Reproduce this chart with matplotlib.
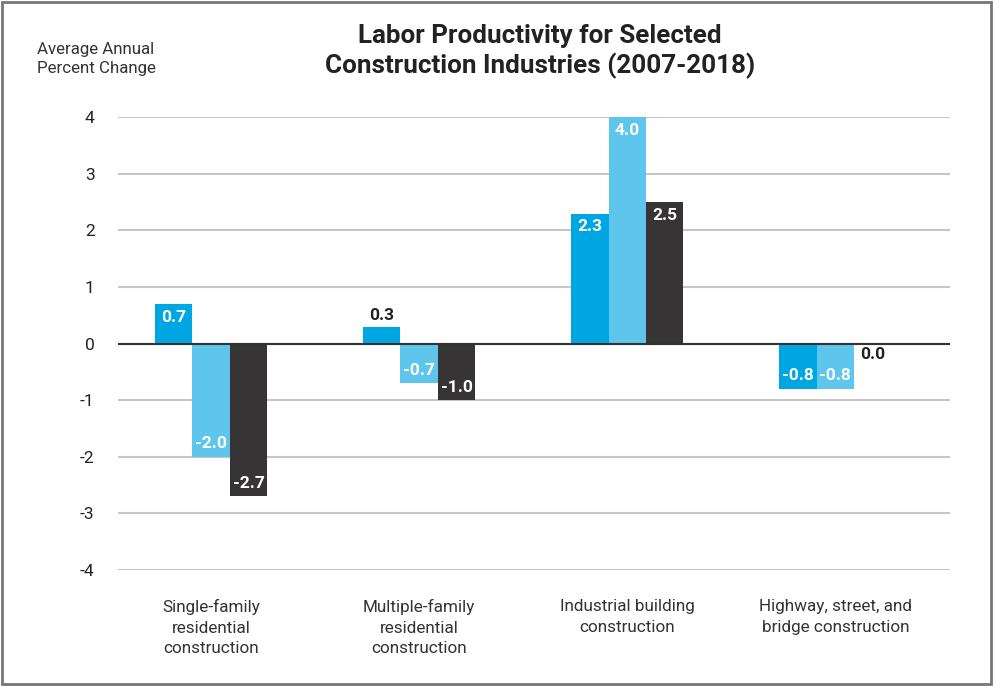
import matplotlib.pyplot as plt
import numpy as np
from matplotlib.patches import Rectangle

plt.rcParams['font.family'] = ['Roboto', 'DejaVu Sans']

# data
categories = ["Single-family\nresidential\nconstruction",
              "Multiple-family\nresidential\nconstruction",
              "Industrial building\nconstruction",
              "Highway, street, and\nbridge construction"]
series_a = [0.7, 0.3, 2.3, -0.8]
series_b = [-2.0, -0.7, 4.0, -0.8]
series_c = [-2.7, -1.0, 2.5, 0.0]
yticks = [-4, -3, -2, -1, 0, 1, 2, 3, 4]

colors = ["#00a6e2", "#5ec6ec", "#363435"]

fig = plt.figure(figsize=(9.93, 6.86), dpi=100)
ax = fig.add_axes([0.119, 0.169, 0.838, 0.660])

x = np.arange(len(categories))
w = 0.18
for i, (vals, c) in enumerate(zip([series_a, series_b, series_c], colors)):
    xs = x + (i - 1) * w
    ax.bar(xs, vals, width=w, color=c, zorder=3)
    for xi, v in zip(xs, vals):
        if abs(v) < 0.5:
            off = 8 if v > 0 else -8
            ax.annotate(f"{v:.1f}", (xi, v), xytext=(0, off), textcoords="offset points",
                        ha="center", va="center", fontsize=12.5, fontweight="bold",
                        color="#222222", zorder=4)
        else:
            off = -9.5 if v > 0 else 9.5
            ax.annotate(f"{v:.1f}", (xi, v), xytext=(0, off), textcoords="offset points",
                        ha="center", va="center", fontsize=12.5, fontweight="bold",
                        color="white", zorder=4)

ax.set_xlim(-0.447, 3.553)
ax.set_ylim(-4, 4)
ax.set_yticks(yticks)
ax.set_yticklabels([str(t) for t in yticks], fontsize=12.5, color="#222222")
ax.set_xticks(x)
ax.set_xticklabels(categories, fontsize=12.3, color="#333333", linespacing=1.45, va="top")
ax.tick_params(axis="both", length=0)
ax.tick_params(axis="y", pad=17)
ax.tick_params(axis="x", pad=21)
ax.grid(axis="y", color="#c6c6c6", linewidth=1.5, zorder=0)
ax.axhline(0, color="#333333", linewidth=1.5, zorder=5)
for s in ax.spines.values():
    s.set_visible(False)

fig.text(0.544, 0.925, "Labor Productivity for Selected\nConstruction Industries (2007-2018)",
         ha="center", va="center", fontsize=18.7, fontweight="bold", color="#222222",
         linespacing=1.25)
fig.text(0.037, 0.914, "Average Annual\nPercent Change", ha="left", va="center",
         fontsize=12.2, color="#333333", linespacing=1.3)

fig.patches.append(Rectangle((0.002, 0.003), 0.996, 0.994, transform=fig.transFigure,
                             fill=False, edgecolor="#777777", linewidth=2))

fig.savefig("out.png", dpi=100)
